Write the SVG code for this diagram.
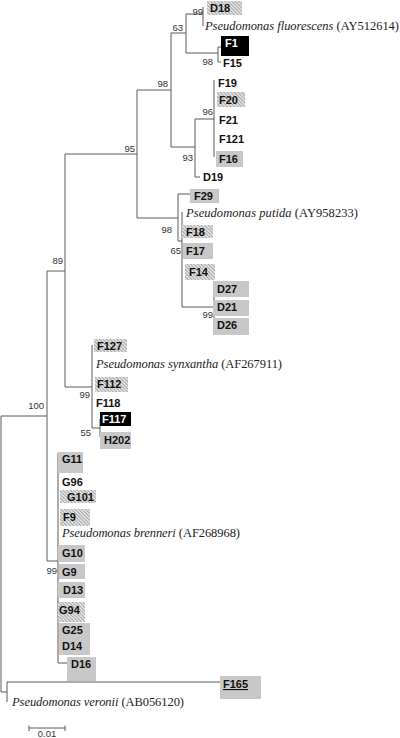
<svg xmlns="http://www.w3.org/2000/svg" width="400" height="738" viewBox="0 0 400 738">
<defs>
<pattern id="hatch" width="2.5" height="2.5" patternUnits="userSpaceOnUse" patternTransform="rotate(-45)">
<rect width="2.5" height="2.5" fill="#e0e0e0"/>
<line x1="0" y1="0" x2="0" y2="2.5" stroke="#7a7a7a" stroke-width="1"/>
</pattern>
</defs>
<style>
.br{stroke:#5a5a5a;stroke-width:1;fill:none}
.t{font-family:"Liberation Sans",Arial,sans-serif;font-size:11px;font-weight:bold;fill:#111}
.w{fill:#fff}
.bs{font-family:"Liberation Sans",Arial,sans-serif;font-size:9.5px;fill:#333;text-anchor:end}
.sp{font-family:"Liberation Serif","Times New Roman",serif;font-size:12.5px;fill:#222}
.it{font-style:italic}
.g{fill:#c8c8c8}
.h{fill:url(#hatch)}
.k{fill:#000}
</style>
<rect width="400" height="738" fill="#fff"/>
<g id="connectors">
<path class="br" d="M1,416V692H7M7,682V702M7,682H220"/>
<path class="br" d="M1,416H47M47,271V561M47,271H65M65,154V387M65,154H137M137,90V218M137,90H171M171,33V147M171,33H186M186,14V53M186,14H203M203,7V26M186,53H218M218,47V62M218,47H221M218,62H221"/>
<path class="br" d="M171,147H195M195,119V177M195,177H200M195,119H214M214,80V157"/>
<path class="br" d="M137,218H178M178,194V241M178,194H190M178,241H182M182,212V307M182,307H214M214,288V327"/>
<path class="br" d="M65,387H92M92,345V428M92,428H100M100,419V437M100,437H103"/>
<path class="br" d="M47,561H58M58,453V663M58,663H67"/>
<path class="br" d="M29,728H65M29,725.5V731M65,725.5V731"/>
</g>
<g id="n-D18"><rect class="h" x="207" y="1" width="35" height="14"/><text class="t" x="210" y="12">D18</text></g>
<g id="n-fluorescens"><text class="sp" x="205" y="30" textLength="194" lengthAdjust="spacing"><tspan class="it">Pseudomonas fluorescens</tspan> (AY512614)</text></g>
<g id="n-F1"><rect class="k" x="221" y="36" width="28" height="20"/><text class="t w" x="225" y="47">F1</text></g>
<g id="n-F15"><text class="t" x="223" y="67">F15</text></g>
<g id="n-F19"><text class="t" x="218" y="87">F19</text></g>
<g id="n-F20"><rect class="h" x="217" y="92" width="28" height="15"/><text class="t" x="219" y="104">F20</text></g>
<g id="n-F21"><text class="t" x="219" y="124">F21</text></g>
<g id="n-F121"><text class="t" x="219" y="143">F121</text></g>
<g id="n-F16"><rect class="g" x="216" y="151" width="27" height="16"/><text class="t" x="219" y="163">F16</text></g>
<g id="n-D19"><text class="t" x="203" y="181">D19</text></g>
<g id="n-F29"><rect class="g" x="190" y="189" width="29" height="14"/><text class="t" x="194" y="200">F29</text></g>
<g id="n-putida"><text class="sp" x="186" y="217" textLength="172" lengthAdjust="spacing"><tspan class="it">Pseudomonas putida</tspan> (AY958233)</text></g>
<g id="n-F18"><rect class="h" x="182" y="225" width="31" height="13"/><text class="t" x="186" y="236">F18</text></g>
<g id="n-F17"><rect class="g" x="183" y="243" width="30" height="16"/><text class="t" x="186" y="255">F17</text></g>
<g id="n-F14"><rect class="h" x="185" y="264" width="30" height="16"/><text class="t" x="189" y="276">F14</text></g>
<g id="n-D27"><rect class="g" x="213" y="281" width="36" height="16"/><text class="t" x="217" y="293">D27</text></g>
<g id="n-D21"><rect class="g" x="213" y="300" width="36" height="16"/><text class="t" x="217" y="311">D21</text></g>
<g id="n-D26"><rect class="g" x="213" y="318" width="36" height="17"/><text class="t" x="217" y="329">D26</text></g>
<g id="n-F127"><rect class="h" x="94" y="339" width="33" height="13"/><text class="t" x="97" y="350">F127</text></g>
<g id="n-synxantha"><text class="sp" x="96" y="368" textLength="186" lengthAdjust="spacing"><tspan class="it">Pseudomonas synxantha</tspan> (AF267911)</text></g>
<g id="n-F112"><rect class="h" x="95" y="377" width="33" height="15"/><text class="t" x="97" y="388">F112</text></g>
<g id="n-F118"><text class="t" x="96" y="407">F118</text></g>
<g id="n-F117"><rect class="k" x="100" y="412" width="31" height="14"/><text class="t w" x="102" y="423">F117</text></g>
<g id="n-H202"><rect class="g" x="100" y="432" width="31" height="17"/><text class="t" x="104" y="444">H202</text></g>
<g id="n-G11"><rect class="g" x="58" y="452" width="25" height="21"/><text class="t" x="62" y="463">G11</text></g>
<g id="n-G96"><text class="t" x="62" y="486">G96</text></g>
<g id="n-G101"><rect class="h" x="60" y="490" width="36" height="13"/><text class="t" x="67" y="501">G101</text></g>
<g id="n-F9"><rect class="h" x="60" y="509" width="30" height="17"/><text class="t" x="63" y="521">F9</text></g>
<g id="n-brenneri"><text class="sp" x="62" y="537" textLength="178" lengthAdjust="spacing"><tspan class="it">Pseudomonas brenneri</tspan> (AF268968)</text></g>
<g id="n-G10"><rect class="g" x="58" y="545" width="27" height="17"/><text class="t" x="62" y="557">G10</text></g>
<g id="n-G9"><rect class="g" x="59" y="564" width="26" height="15"/><text class="t" x="62" y="576">G9</text></g>
<g id="n-D13"><rect class="g" x="58" y="582" width="27" height="16"/><text class="t" x="63" y="594">D13</text></g>
<g id="n-G94"><rect class="h" x="58" y="602" width="27" height="20"/><text class="t" x="59" y="614">G94</text></g>
<g id="n-G25"><rect class="g" x="59" y="623" width="31" height="32"/><text class="t" x="62" y="634">G25</text></g>
<g id="n-D14"><text class="t" x="62" y="650">D14</text></g>
<g id="n-D16"><rect class="g" x="67" y="657" width="29" height="24"/><text class="t" x="71" y="668">D16</text></g>
<g id="n-F165"><rect class="g" x="220" y="676" width="41" height="23"/><text class="t" x="223" y="688" text-decoration="underline">F165</text></g>
<g id="n-veronii"><text class="sp" x="12" y="706" textLength="172" lengthAdjust="spacing"><tspan class="it">Pseudomonas veronii</tspan> (AB056120)</text></g>
<g id="bootstrap">
<text class="bs" x="203" y="15">99</text>
<text class="bs" x="183" y="31">63</text>
<text class="bs" x="213" y="65">98</text>
<text class="bs" x="168" y="87">98</text>
<text class="bs" x="213" y="115">96</text>
<text class="bs" x="193" y="161">93</text>
<text class="bs" x="135" y="152">95</text>
<text class="bs" x="172" y="233">98</text>
<text class="bs" x="181" y="254">65</text>
<text class="bs" x="213" y="318">99</text>
<text class="bs" x="63" y="264">89</text>
<text class="bs" x="44" y="409">100</text>
<text class="bs" x="90" y="398">99</text>
<text class="bs" x="91" y="436">55</text>
<text class="bs" x="57" y="574">99</text>
</g>
<text id="scale" x="47" y="737" text-anchor="middle" style="font-family:'Liberation Sans',Arial,sans-serif;font-size:9.5px;fill:#333">0.01</text>
</svg>
